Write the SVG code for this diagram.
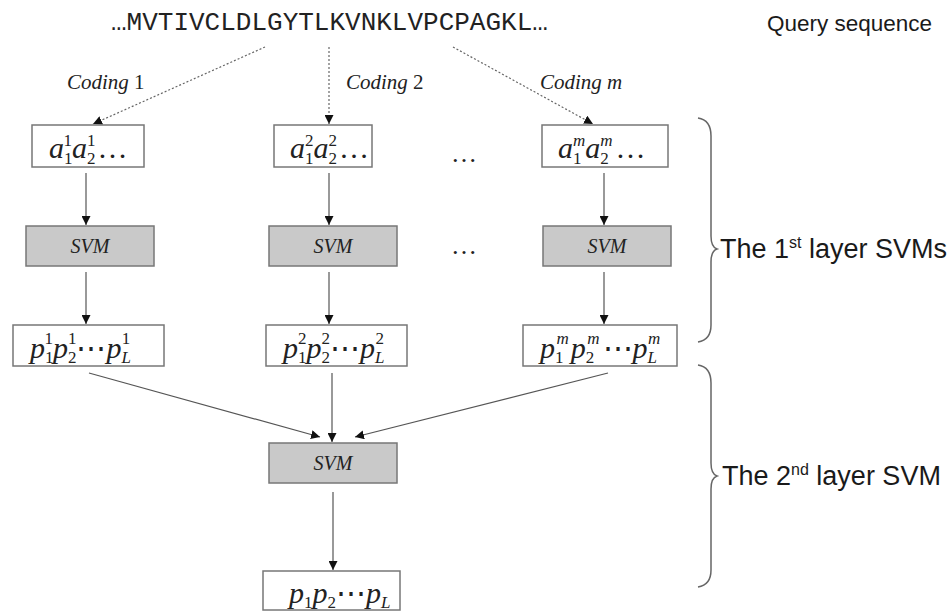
<svg xmlns="http://www.w3.org/2000/svg" width="950" height="611" viewBox="0 0 950 611">
  <style>
    .seq { font-family: "Liberation Mono", "Courier New", monospace; font-size: 26px; fill: #222; }
    .lbl { font-family: "Liberation Sans", Arial, sans-serif; font-size: 22.5px; fill: #1a1a1a; }
    .big { font-family: "Liberation Sans", Arial, sans-serif; font-size: 27px; fill: #1a1a1a; }
    .cod { font-family: "Liberation Serif", "Times New Roman", serif; font-size: 21px; fill: #222; }
    .it { font-style: italic; }
    .m { font-family: "Liberation Serif", "Times New Roman", serif; font-size: 30px; fill: #222; }
    .s { font-size: 17px; font-style: normal; }
    .si { font-size: 17px; font-style: italic; }
    .svm { font-family: "Liberation Serif", "Times New Roman", serif; font-size: 20px; font-style: italic; fill: #222; }
    .box { fill: #fff; stroke: #777; stroke-width: 1.5; }
    .gbox { fill: #c9c9c9; stroke: #777; stroke-width: 1.5; }
    .con { fill: none; stroke: #555; stroke-width: 1.2; }
    .dot { fill: none; stroke: #666; stroke-width: 1.2; stroke-dasharray: 2 2; }
    .brace { fill: none; stroke: #666; stroke-width: 1.5; }
    .ell { font-family: "Liberation Serif", "Times New Roman", serif; font-size: 26px; fill: #222; }
  </style>
  <defs>
    <marker id="arr" viewBox="0 0 10 10" refX="10" refY="5" markerWidth="9" markerHeight="9" markerUnits="userSpaceOnUse" orient="auto">
      <path d="M0,0 L10,5 L0,10 z" fill="#111"/>
    </marker>
  </defs>

  <!-- input sequence and caption -->
  <text class="seq" x="111" y="30">…MVTIVCLDLGYTLKVNKLVPCPAGKL…</text>
  <text class="lbl" x="767" y="31">Query sequence</text>

  <!-- coding labels -->
  <text class="cod" x="67" y="89"><tspan class="it">Coding</tspan> 1</text>
  <text class="cod" x="346" y="89"><tspan class="it">Coding</tspan> 2</text>
  <text class="cod" x="540" y="89"><tspan class="it">Coding m</tspan></text>

  <!-- connectors -->
  <g id="connectors">
    <line class="dot" x1="265" y1="47" x2="93" y2="124" marker-end="url(#arr)"/>
    <line class="dot" x1="329" y1="47" x2="329" y2="124" marker-end="url(#arr)"/>
    <line class="dot" x1="453" y1="47" x2="593" y2="124" marker-end="url(#arr)"/>

    <line class="con" x1="86" y1="173" x2="86" y2="225" marker-end="url(#arr)"/>
    <line class="con" x1="329" y1="173" x2="329" y2="225" marker-end="url(#arr)"/>
    <line class="con" x1="604" y1="173" x2="604" y2="225" marker-end="url(#arr)"/>

    <line class="con" x1="86" y1="272" x2="86" y2="324" marker-end="url(#arr)"/>
    <line class="con" x1="329" y1="272" x2="329" y2="324" marker-end="url(#arr)"/>
    <line class="con" x1="604" y1="272" x2="604" y2="324" marker-end="url(#arr)"/>

    <line class="con" x1="89" y1="373" x2="320" y2="437" marker-end="url(#arr)"/>
    <line class="con" x1="332" y1="373" x2="332" y2="442" marker-end="url(#arr)"/>
    <line class="con" x1="608" y1="373" x2="355" y2="437" marker-end="url(#arr)"/>

    <line class="con" x1="333" y1="492" x2="333" y2="570" marker-end="url(#arr)"/>
  </g>

  <!-- first layer: encoded inputs -->
  <g id="input1">
    <rect class="box" x="32" y="125" width="112" height="42"/>
    <text class="m" x="49" y="158"><tspan class="it">a</tspan><tspan class="s" dy="6">1</tspan><tspan class="s" dx="-8.5" dy="-18">1</tspan><tspan class="it" dy="12">a</tspan><tspan class="s" dy="6">2</tspan><tspan class="s" dx="-8.5" dy="-18">1</tspan><tspan dx="2" dy="12">…</tspan></text>
  </g>
  <g id="input2">
    <rect class="box" x="274" y="125" width="98" height="42"/>
    <text class="m" x="290" y="158"><tspan class="it">a</tspan><tspan class="s" dy="6">1</tspan><tspan class="s" dx="-8.5" dy="-18">2</tspan><tspan class="it" dy="12">a</tspan><tspan class="s" dy="6">2</tspan><tspan class="s" dx="-8.5" dy="-18">2</tspan><tspan dx="2" dy="12">…</tspan></text>
  </g>
  <g id="inputm">
    <rect class="box" x="542" y="125" width="126" height="42"/>
    <text class="m" x="558" y="158"><tspan class="it">a</tspan><tspan class="s" dy="6">1</tspan><tspan class="si" dx="-8.5" dy="-18">m</tspan><tspan class="it" dy="12">a</tspan><tspan class="s" dy="6">2</tspan><tspan class="si" dx="-8.5" dy="-18">m</tspan><tspan dx="3" dy="12">…</tspan></text>
  </g>
  <text class="ell" x="464" y="162" text-anchor="middle">…</text>

  <!-- first layer SVMs -->
  <g id="svm1">
    <rect class="gbox" x="26" y="226" width="128" height="40"/>
    <text class="svm" x="90" y="253" text-anchor="middle">SVM</text>
  </g>
  <g id="svm2">
    <rect class="gbox" x="269" y="226" width="128" height="40"/>
    <text class="svm" x="333" y="253" text-anchor="middle">SVM</text>
  </g>
  <g id="svmm">
    <rect class="gbox" x="543" y="226" width="128" height="40"/>
    <text class="svm" x="607" y="253" text-anchor="middle">SVM</text>
  </g>
  <text class="ell" x="464" y="254" text-anchor="middle">…</text>

  <!-- first layer outputs -->
  <g id="out1">
    <rect class="box" x="13" y="325" width="151" height="41"/>
    <text class="m" x="30" y="358"><tspan class="it">p</tspan><tspan class="s" dy="5">1</tspan><tspan class="s" dx="-8.5" dy="-19">1</tspan><tspan class="it" dy="14">p</tspan><tspan class="s" dy="5">2</tspan><tspan class="s" dx="-8.5" dy="-19">1</tspan><tspan dy="14">⋯</tspan><tspan class="it">p</tspan><tspan class="si" dy="5">L</tspan><tspan class="s" dx="-9" dy="-19">1</tspan></text>
  </g>
  <g id="out2">
    <rect class="box" x="266" y="325" width="141" height="41"/>
    <text class="m" x="283" y="358"><tspan class="it">p</tspan><tspan class="s" dy="5">1</tspan><tspan class="s" dx="-8.5" dy="-19">2</tspan><tspan class="it" dy="14">p</tspan><tspan class="s" dy="5">2</tspan><tspan class="s" dx="-8.5" dy="-19">2</tspan><tspan dy="14">⋯</tspan><tspan class="it">p</tspan><tspan class="si" dy="5">L</tspan><tspan class="s" dx="-9" dy="-19">2</tspan></text>
  </g>
  <g id="outm">
    <rect class="box" x="523" y="325" width="154" height="41"/>
    <text class="m" x="540" y="358"><tspan class="it">p</tspan><tspan class="s" dy="5">1</tspan><tspan class="si" dx="-7" dy="-19">m</tspan><tspan class="it" dx="2" dy="14">p</tspan><tspan class="s" dy="5">2</tspan><tspan class="si" dx="-7" dy="-19">m</tspan><tspan dx="3" dy="14">⋯</tspan><tspan class="it">p</tspan><tspan class="si" dy="5">L</tspan><tspan class="si" dx="-9" dy="-19">m</tspan></text>
  </g>

  <!-- second layer -->
  <g id="svm_final">
    <rect class="gbox" x="269" y="443" width="128" height="40"/>
    <text class="svm" x="333" y="470" text-anchor="middle">SVM</text>
  </g>
  <g id="result">
    <rect class="box" x="263" y="571" width="137" height="39"/>
    <text class="m" x="289" y="603"><tspan class="it">p</tspan><tspan class="s" dy="5">1</tspan><tspan class="it" dy="-5">p</tspan><tspan class="s" dy="5">2</tspan><tspan dy="-5">⋯</tspan><tspan class="it">p</tspan><tspan class="si" dy="5">L</tspan></text>
  </g>

  <!-- braces and layer captions -->
  <g id="brace1">
    <path class="brace" d="M698,118 Q711,120 711,136 L711,236 Q711,247 717,249 Q711,251 711,262 L711,325 Q711,340 698,342"/>
    <text class="big" x="720" y="258">The 1<tspan font-size="16" dy="-10">st</tspan><tspan dy="10"> layer SVMs</tspan></text>
  </g>
  <g id="brace2">
    <path class="brace" d="M698,365 Q711,367 711,383 L711,463 Q711,474 717,476 Q711,478 711,489 L711,570 Q711,585 698,587"/>
    <text class="big" x="722" y="485">The 2<tspan font-size="16" dy="-10">nd</tspan><tspan dy="10"> layer SVM</tspan></text>
  </g>
</svg>
